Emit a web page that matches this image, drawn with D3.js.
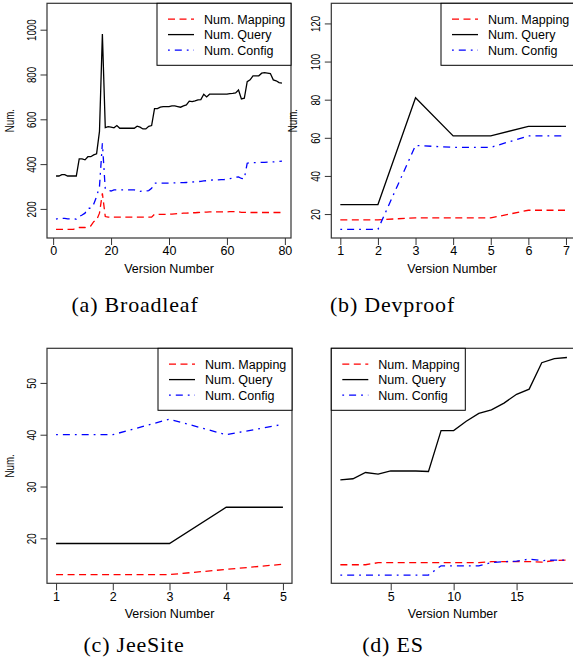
<!DOCTYPE html>
<html>
<head>
<meta charset="utf-8">
<script src="https://cdn.jsdelivr.net/npm/d3@7"></script>
<style>
  body { margin: 0; background: #fff; }
  text { font-family: "Liberation Sans", Arial, sans-serif; }
  text.caption { font-family: "Liberation Serif", "Times New Roman", serif; }
</style>
</head>
<body>
<svg id="fig" width="573" height="669"></svg>
<script>
// ---- data ----
var seriesNames = ["Num. Mapping", "Num. Query", "Num. Config"];

var broadleafVersions = d3.range(1, 80);
var broadleafMapping = [109,109,109,109,109,109,109,114,117,117,117,121,124,143,150,181,270,166,163,163,
  163,163,163,163,163,163,163,163,163,163,163,163,163,163,176,176,176,176,176,176,
  177,178,179,180,181,181,182,183,183,184,185,185,186,187,187,187,187,187,187,187,
  188,188,188,187,185,185,184,184,184,184,184,184,184,184,184,184,184,184,184];
var broadleafQuery = [347,347,353,353,347,347,347,347,423,423,419,433,433,441,446,546,981,563,567,565,
  562,572,560,560,560,560,560,560,569,565,557,557,569,572,648,648,654,657,657,657,
  660,660,657,654,660,664,681,679,682,687,688,712,700,712,712,712,712,712,712,712,
  715,716,718,731,691,694,768,776,794,794,794,806,808,806,804,776,772,764,761];
var broadleafConfig = [154,158,158,158,156,156,156,154,166,173,181,203,203,221,255,300,493,288,283,280,
  285,285,285,285,285,285,285,285,280,278,280,280,282,292,315,315,315,315,315,315,
  316,316,317,317,317,318,319,320,321,322,323,325,326,328,329,329,330,331,331,332,
  335,338,341,343,336,335,404,407,407,407,407,408,408,409,410,410,411,412,413];

var devproofVersions = [1,2,3,4,5,6,7];
var devproofMapping = [17,17,18,18,18,22,22];
var devproofQuery   = [25,25,81,61,61,66,66];
var devproofConfig  = [12,12,56,55,55,61,61];

var jeesiteVersions = [1,2,3,4,5];
var jeesiteMapping = [13,13,13,14,15];
var jeesiteQuery   = [19,19,19,26,26];
var jeesiteConfig  = [40,40,43,40,42];

var esVersions = [1,2,3,4,5,6,7,8,9,10,11,12,13,14,15,16,17,18,19];
var esMapping = [14.9,14.9,14.9,15.3,15.3,15.3,15.3,15.3,15.3,15.3,15.3,15.3,15.5,15.5,15.5,15.5,15.4,15.7,15.8];
var esQuery   = [31.3,31.5,32.7,32.4,33.0,33.0,33.0,32.9,40.8,40.8,42.6,44.1,44.8,46.1,47.8,48.8,53.9,54.7,54.9];
var esConfig  = [12.9,12.9,12.9,12.9,12.9,12.9,12.9,12.9,14.7,14.7,14.7,14.7,15.3,15.5,15.6,16.0,15.7,15.8,15.8];

// ---- drawing ----
var svg = d3.select("#fig");
svg.append("rect").attr("width", 573).attr("height", 669).attr("fill", "#fff");

var colors = ["#ff0000", "#000000", "#0000ff"];
var dashes = ["7,4.5", null, "1.8,5,7,5"];

function rPad(ext) {   // R style 4% axis padding
  var r = ext[1] - ext[0];
  return [ext[0] - 0.04 * r, ext[1] + 0.04 * r];
}

function panel(o) {
  var x = d3.scaleLinear().domain(rPad(d3.extent(o.versions))).range([o.left, o.right]);
  var y = d3.scaleLinear().domain(rPad(o.ylim)).range([o.bottom, o.top]);
  var g = svg.append("g");

  var series = [o.mapping, o.query, o.config];
  var line = d3.line()
    .x(function(d, i) { return x(o.versions[i]); })
    .y(function(d) { return y(d); });

  series.forEach(function(s, k) {
    g.append("path")
      .attr("d", line(s))
      .attr("fill", "none")
      .attr("stroke", colors[k])
      .attr("stroke-width", 1.3)
      .attr("stroke-dasharray", dashes[k]);
  });

  // box
  g.append("rect")
    .attr("x", o.left).attr("y", o.top)
    .attr("width", o.right - o.left).attr("height", o.bottom - o.top)
    .attr("fill", "none").attr("stroke", "#333").attr("stroke-width", 1.2);

  // x axis
  var xa = g.append("g").attr("transform", "translate(0," + o.bottom + ")")
    .call(d3.axisBottom(x).tickValues(o.xticks).tickSize(7).tickPadding(1.5).tickFormat(d3.format("d")));
  xa.select(".domain").remove();
  xa.selectAll("text").attr("font-size", 12.5).attr("fill", "#000").attr("font-family", null);
  xa.selectAll("line").attr("stroke", "#333");

  g.append("text")
    .attr("x", (o.left + o.right) / 2 - (o.right > 573 ? 1 : 0))
    .attr("y", o.bottom + 34.5)
    .attr("text-anchor", "middle")
    .attr("font-size", 12.5)
    .text("Version Number");

  // y axis
  if (o.yticks) {
    var ya = g.append("g").attr("transform", "translate(" + o.left + ",0)")
      .call(d3.axisLeft(y).tickValues(o.yticks).tickSize(6.5).tickFormat(d3.format("d")));
    ya.select(".domain").remove();
    ya.selectAll("line").attr("stroke", "#333");
    ya.selectAll("text")
      .attr("x", null).attr("dy", null)
      .attr("font-family", null)
      .attr("font-size", 12.5).attr("fill", "#000")
      .attr("text-anchor", "middle")
      .attr("transform", "translate(-11,0) rotate(-90) scale(0.78,1)");

    g.append("text")
      .attr("transform", "translate(" + (o.left - o.numOff) + "," + ((o.top + o.bottom) / 2) + ") rotate(-90) scale(0.78,1)")
      .attr("text-anchor", "middle")
      .attr("font-size", 12.5)
      .text("Num.");
  }

  // legend
  var lw = 134, lh = 62;
  var lx = o.legendLeft ? o.left : o.right - lw;
  var lg = g.append("g").attr("transform", "translate(" + lx + "," + o.top + ")");
  lg.append("rect").attr("width", lw).attr("height", lh)
    .attr("fill", "#fff").attr("stroke", "#000").attr("stroke-width", 1);
  seriesNames.forEach(function(name, k) {
    var ry = 15.8 + k * 15.5;
    lg.append("line")
      .attr("x1", 11).attr("x2", 37).attr("y1", ry).attr("y2", ry)
      .attr("stroke", colors[k]).attr("stroke-width", 1.3)
      .attr("stroke-dasharray", dashes[k]);
    lg.append("text")
      .attr("x", 47).attr("y", ry + 4.5)
      .attr("font-size", 12.5)
      .text(name);
  });

  // caption
  svg.append("text")
    .attr("class", "caption")
    .attr("x", o.capX).attr("y", o.capY)
    .attr("text-anchor", "middle")
    .attr("font-size", 22)
    .attr("letter-spacing", 0.8)
    .text(o.caption);
}

panel({
  versions: broadleafVersions, mapping: broadleafMapping, query: broadleafQuery, config: broadleafConfig,
  ylim: [109, 1079], xticks: [0, 20, 40, 60, 80], yticks: [200, 400, 600, 800, 1000],
  left: 47, right: 291, top: 3.3, bottom: 238, numOff: 33,
  caption: "(a) Broadleaf", capX: 135, capY: 312
});
panel({
  versions: devproofVersions, mapping: devproofMapping, query: devproofQuery, config: devproofConfig,
  ylim: [12, 126], xticks: [1, 2, 3, 4, 5, 6, 7], yticks: [20, 40, 60, 80, 100, 120],
  left: 331.3, right: 575, top: 3.3, bottom: 238, numOff: 34,
  caption: "(b) Devproof", capX: 392.5, capY: 312
});
panel({
  versions: jeesiteVersions, mapping: jeesiteMapping, query: jeesiteQuery, config: jeesiteConfig,
  ylim: [13, 55], xticks: [1, 2, 3, 4, 5], yticks: [20, 30, 40, 50],
  left: 47, right: 292, top: 348.3, bottom: 583.3, numOff: 33,
  caption: "(c) JeeSite", capX: 134, capY: 652
});
panel({
  versions: esVersions, mapping: esMapping, query: esQuery, config: esConfig,
  ylim: [13, 55], xticks: [5, 10, 15], yticks: null, legendLeft: true,
  left: 331.3, right: 576, top: 348.3, bottom: 583.3,
  caption: "(d) ES", capX: 393, capY: 652
});
</script>
</body>
</html>
